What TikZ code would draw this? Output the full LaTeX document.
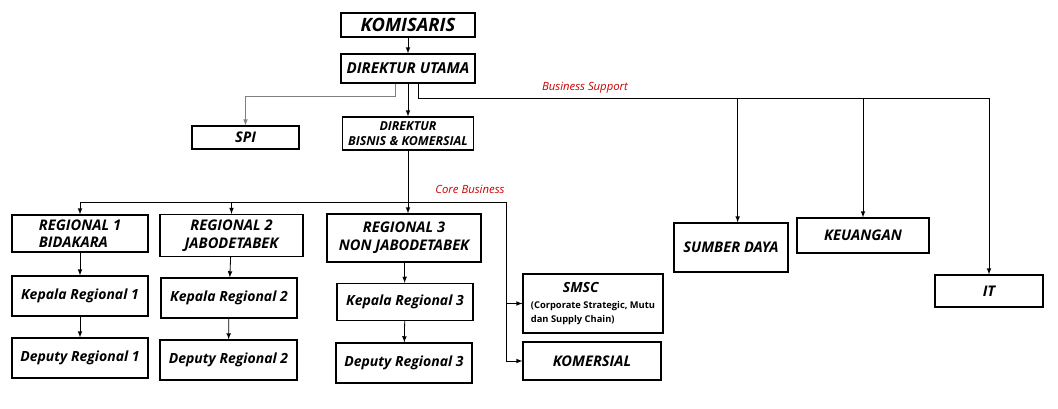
\documentclass[tikz,border=0pt]{standalone}
\usepackage{fontspec}
\usepackage{tikz}
\usetikzlibrary{arrows}
\newfontfamily\orgfont{Open Sans}
\newcommand\fsz[1]{\fontsize{#1}{\dimexpr#1pt*6/5\relax}\selectfont}

\begin{document}
\begin{tikzpicture} [x=0.75pt, y=-0.75pt, >=latex,
box/.style={draw, line width=0.9pt, inner sep=0pt, align=center, font=\orgfont\bfseries\itshape\fsz{10.5}},
capbox/.style={box, font=\orgfont\bfseries\itshape\fsz{11}},
link/.style={line width=0.6pt},
tag/.style={text=red!80!black, font=\orgfont\itshape\fsz{8.5}, inner sep=0pt}]
\useasboundingbox (0,0) rectangle (1058,409);
\node[box, minimum width=100.5pt, minimum height=18pt, font=\orgfont\bfseries\itshape\fsz{13.8}](kom) at (408,25){KOMISARIS};
\node[capbox, minimum width=100.5pt, minimum height=21.75pt, font=\orgfont\bfseries\itshape\fsz{11.3}](du) at (408,68.5){DIREKTUR UTAMA};
\node[capbox, minimum width=80.25pt, minimum height=17.25pt](spi) at (245.5,137.5){SPI};
\node[box, minimum width=98.25pt, minimum height=24.75pt, font=\orgfont\bfseries\itshape\fsz{9.3}](dbk) at (408,133.5){DIREKTUR\\BISNIS \& KOMERSIAL};
\node[capbox, minimum width=102pt, minimum height=27.75pt, align=left](r1) at (80,233.5){REGIONAL 1\\BIDAKARA};
\node[capbox, minimum width=107.25pt, minimum height=31.5pt](r2) at (231.5,235.5){REGIONAL 2\\JABODETABEK};
\node[capbox, minimum width=115.5pt, minimum height=36pt](r3) at (404,238){REGIONAL 3\\NON JABODETABEK};
\node[box, minimum width=102pt, minimum height=30pt](k1) at (80,296){Kepala Regional 1};
\node[box, minimum width=102pt, minimum height=30pt](k2) at (229,298){Kepala Regional 2};
\node[box, minimum width=102pt, minimum height=27.75pt](k3) at (405,302){Kepala Regional 3};
\node[box, minimum width=102pt, minimum height=30pt](d1) at (80,358){Deputy Regional 1};
\node[box, minimum width=102.75pt, minimum height=30pt](d2) at (228.5,360){Deputy Regional 2};
\node[box, minimum width=102pt, minimum height=30pt](d3) at (404,363){Deputy Regional 3};
\node[box, minimum width=105pt, minimum height=44.25pt, align=left](smsc) at (593,303.5){\hspace*{24pt}SMSC\\[-1pt]{\upshape\fsz{7}(Corporate Strategic, Mutu}\\[-2pt]{\upshape\fsz{7}dan Supply Chain)}};
\node[capbox, minimum width=103.5pt, minimum height=28.5pt](kms) at (592,361){KOMERSIAL};
\node[capbox, minimum width=85.5pt, minimum height=36.75pt](sd) at (731,247.5){SUMBER DAYA};
\node[capbox, minimum width=99pt, minimum height=26.25pt](keu) at (863,235.5){KEUANGAN};
\node[capbox, minimum width=81pt, minimum height=24pt](it) at (989,291){IT};
\coordinate (bs) at (418,98);
\coordinate (sp) at (395,96);
\coordinate (cb) at (506,202);
\node[tag](bstag) at (585,88){Business Support};
\node[tag](cbtag) at (470,189){Core Business};
\draw [link,->](kom) -- (du);
\draw [link,->](du) -- (dbk);
\draw [link,->,gray](sp |- du.south) -- (sp) -| (spi);
\draw [link,->](bs |- du.south) -- (bs) -| (it);
\draw [link,->]([xshift=5pt]sd.north |- bs) -- ([xshift=5pt]sd.north);
\draw [link,->](keu.north |- bs) -- (keu);
\draw [link,->](dbk.south) -- (dbk.south |- r3.north);
\draw [link,->](cb) -| (r1);
\draw [link,->](cb -| r2.north) -- (r2);
\draw [link,->](cb) |- (smsc);
\draw [link,->](cb) |- (kms);
\draw [link,->](r1) -- (k1);
\draw [link,->](k1) -- (d1);
\draw [link,->](r2) -- (k2);
\draw [link,->](k2) -- (d2);
\draw [link,->](r3) -- (k3);
\draw [link,->](k3) -- (d3);
\end{tikzpicture}
\end{document}
